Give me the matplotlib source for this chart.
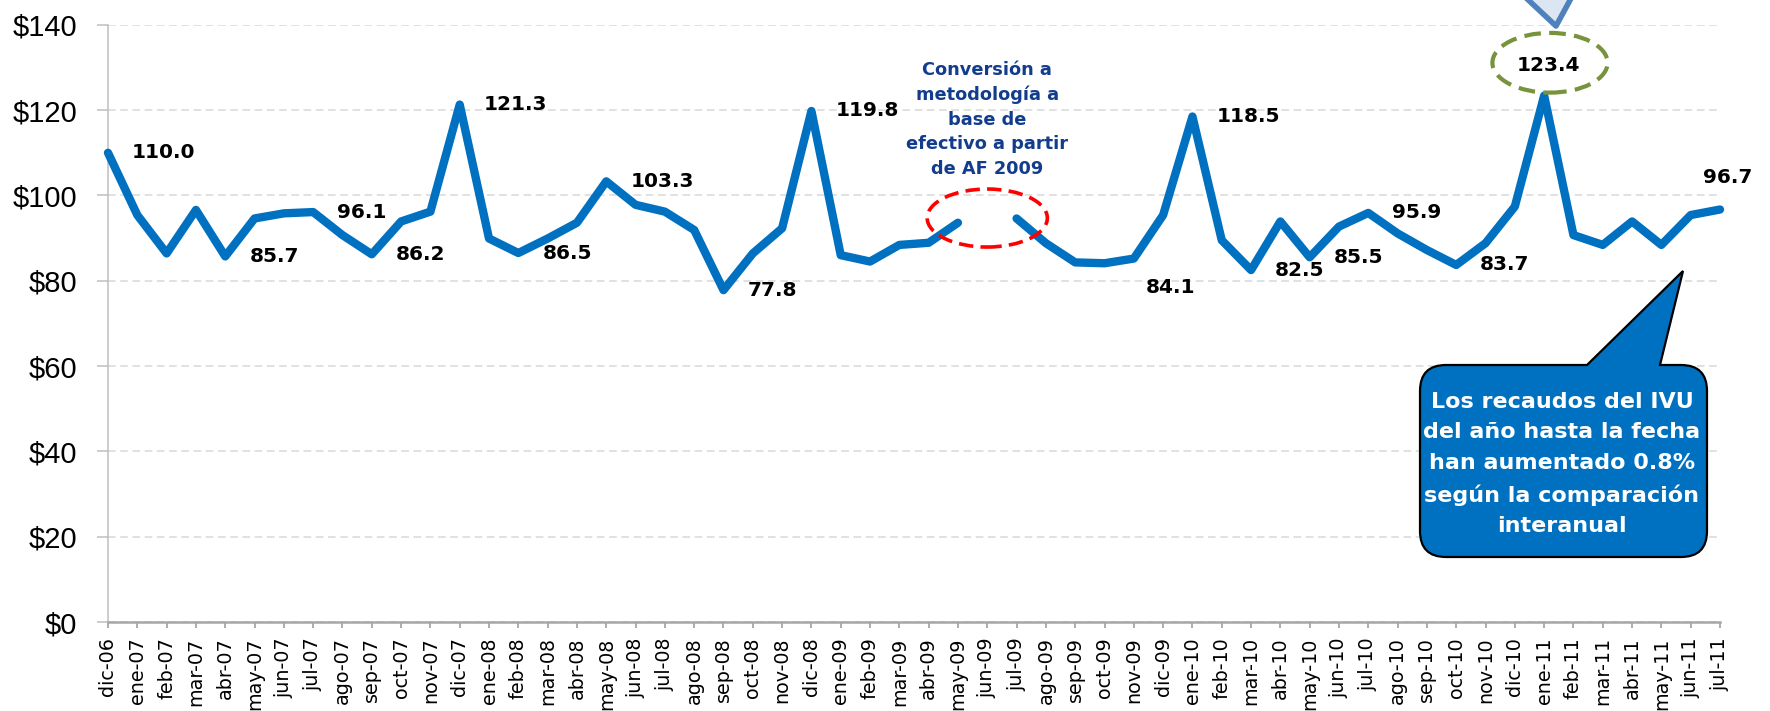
import numpy as np
import matplotlib
matplotlib.use("Agg")
import matplotlib.pyplot as plt
from matplotlib.patches import Ellipse, PathPatch, Polygon
from matplotlib.path import Path

plt.rcParams['font.family'] = ['DejaVu Sans']

months = ["dic-06", "ene-07", "feb-07", "mar-07", "abr-07", "may-07", "jun-07", "jul-07",
          "ago-07", "sep-07", "oct-07", "nov-07", "dic-07", "ene-08", "feb-08", "mar-08",
          "abr-08", "may-08", "jun-08", "jul-08", "ago-08", "sep-08", "oct-08", "nov-08",
          "dic-08", "ene-09", "feb-09", "mar-09", "abr-09", "may-09", "jun-09", "jul-09",
          "ago-09", "sep-09", "oct-09", "nov-09", "dic-09", "ene-10", "feb-10", "mar-10",
          "abr-10", "may-10", "jun-10", "jul-10", "ago-10", "sep-10", "oct-10", "nov-10",
          "dic-10", "ene-11", "feb-11", "mar-11", "abr-11", "may-11", "jun-11", "jul-11"]

values = [110.0, 95.4, 86.4, 96.6, 85.7, 94.6, 95.8, 96.1,
          90.7, 86.2, 93.9, 96.2, 121.3, 89.9, 86.5, 89.9,
          93.6, 103.3, 97.8, 96.2, 91.9, 77.8, 86.4, 92.3,
          119.8, 86.0, 84.5, 88.4, 88.9, 93.6, np.nan, 94.6,
          88.8, 84.3, 84.1, 85.2, 95.4, 118.5, 89.5, 82.5,
          93.9, 85.5, 92.7, 95.9, 91.1, 87.2, 83.7, 88.8,
          97.4, 123.4, 90.7, 88.4, 93.9, 88.4, 95.4, 96.7]

labeled_months = ["dic-06", "abr-07", "jul-07", "sep-07", "dic-07", "feb-08", "may-08",
                  "sep-08", "dic-08", "oct-09", "ene-10", "mar-10", "may-10", "jul-10",
                  "oct-10", "ene-11", "jul-11"]

yticks = [0, 20, 40, 60, 80, 100, 120, 140]
ytick_labels = [r"\$0", r"\$20", r"\$40", r"\$60", r"\$80", r"\$100", r"\$120", r"\$140"]

note_text = "Conversión a\nmetodología a\nbase de\nefectivo a partir\nde AF 2009"
callout_text = ("Los recaudos del IVU\ndel año hasta la fecha\nhan aumentado 0.8%\n"
                "según la comparación\ninteranual")

W, H = 1770, 711
fig = plt.figure(figsize=(W / 100, H / 100), dpi=100)
ax = fig.add_axes([108 / W, 89 / H, (1720 - 108) / W, (622 - 24.8) / H])

x = np.arange(len(months))
ax.plot(x, values, color='#0070C0', lw=6, solid_joinstyle='round',
        solid_capstyle='round', zorder=3, clip_on=False)

ax.set_xlim(0, len(months) - 1)
ax.set_ylim(0, 140)
ax.set_yticks(yticks)
ax.set_yticklabels(ytick_labels, fontsize=21, family=['Liberation Sans', 'DejaVu Sans'])
ax.set_xticks(x)
ax.set_xticklabels(months, rotation=90, fontsize=13.8)

ax.yaxis.grid(True, color='#D9D9D9', lw=1.1, ls=(0, (5, 3)))
ax.set_axisbelow(True)
for s in ['top', 'right']:
    ax.spines[s].set_visible(False)
ax.spines['left'].set_color('#BFBFBF')
ax.spines['left'].set_linewidth(1.1)
ax.spines['bottom'].set_color('#A6A6A6')
ax.spines['bottom'].set_linewidth(1.8)
ax.tick_params(axis='y', length=8, width=1.1, color='#BFBFBF', pad=14)
ax.tick_params(axis='x', length=4, width=1.3, color='#A6A6A6', pad=7)

# data labels
offsets = {"oct-09": (29.5, -17.3, 'left'), "ene-11": (3, 21.6, 'center'),
           "jul-11": (5.8, 23, 'center')}
for m in labeled_months:
    i = months.index(m)
    dx, dy, ha = offsets.get(m, (17.3, 0, 'left'))
    ax.annotate(f"{values[i]:.1f}", (x[i], values[i]), xytext=(dx, dy),
                textcoords='offset points', ha=ha, va='center',
                fontsize=14.5, fontweight='bold', color='black', zorder=5,
                annotation_clip=False)

# methodology note
ax.text(30, 117.8, note_text, ha='center', va='center', fontsize=12.8,
        fontweight='bold', color='#123C8C', linespacing=1.47, zorder=5)
ax.add_patch(Ellipse((30, 94.7), 4.1, 13.6, fill=False, edgecolor='#FF0000',
                     lw=2.6, ls=(0, (4, 2)), zorder=6, clip_on=False))
ax.add_patch(Ellipse((49.2, 131.1), 3.93, 14.0, fill=False, edgecolor='#77933C',
                     lw=3, ls=(0, (4, 2)), zorder=6, clip_on=False))

# top arrow (cut off at figure top)
def fpt(px, py_top):
    return (px / W, (H - py_top) / H)

arrow = Polygon([fpt(1507, -20), fpt(1556, 26), fpt(1581, -20)], closed=True,
                facecolor='#DCE6F2', edgecolor='#4F81BD', lw=4, joinstyle='round',
                transform=fig.transFigure, zorder=10)
fig.patches.append(arrow)

# callout
L, R, T, B, r = 1420, 1707, 365, 557, 26
verts = [fpt(L + r, T), fpt(1587, T), fpt(1683, 271), fpt(1660, T), fpt(R - r, T),
         fpt(R, T), fpt(R, T + r), fpt(R, B - r), fpt(R, B), fpt(R - r, B),
         fpt(L + r, B), fpt(L, B), fpt(L, B - r), fpt(L, T + r), fpt(L, T),
         fpt(L + r, T), fpt(L + r, T)]
codes = [Path.MOVETO, Path.LINETO, Path.LINETO, Path.LINETO, Path.LINETO,
         Path.CURVE3, Path.CURVE3, Path.LINETO, Path.CURVE3, Path.CURVE3,
         Path.LINETO, Path.CURVE3, Path.CURVE3, Path.LINETO, Path.CURVE3, Path.CURVE3,
         Path.CLOSEPOLY]
callout = PathPatch(Path(verts, codes), facecolor='#0070C0', edgecolor='black',
                    lw=1.6, transform=fig.transFigure, zorder=10)
fig.patches.append(callout)
fig.text(1562 / W, (H - 464) / H, callout_text, ha='center', va='center',
         fontsize=16, fontweight='bold', color='white', linespacing=1.65, zorder=11)

fig.savefig("out.png", dpi=100)
